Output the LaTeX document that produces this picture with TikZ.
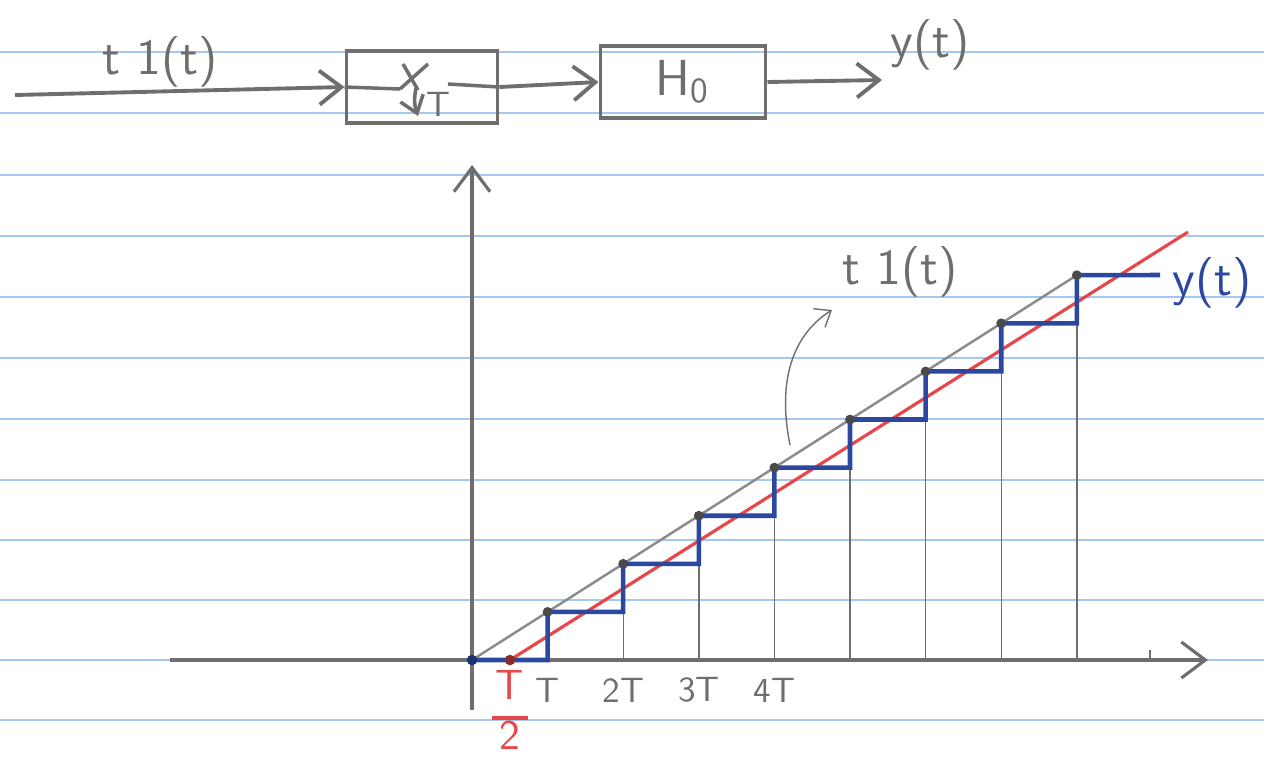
\documentclass[tikz,border=0pt]{standalone}
\usepackage{xcolor}
\usepackage{tikz}
\usetikzlibrary{
  arrows.meta,
  positioning,
  calc
}
\definecolor{pencil}{HTML}{6E6E6E}
\definecolor{pencildark}{HTML}{4A4A4A}
\definecolor{inkblue}{HTML}{2A48A0}
\definecolor{inkred}{HTML}{E8474A}
\definecolor{ruled}{HTML}{A5C8EE}

\begin{document}
\begin{tikzpicture}[
  x=0.01cm, y=-0.01cm,
  block/.style={
    draw=pencil, line width=1.1pt, minimum height=0.72cm,
    font=\Large\sffamily, text=pencil,
  },
  arrow/.style={-{Straight Barb[length=2.2mm,width=3.4mm]}, draw=pencil, line width=1.1pt},
  axis/.style={-{Straight Barb[length=2.4mm,width=3.6mm]}, draw=pencil, line width=0.9pt},
  ramp/.style={draw=pencil!80, line width=0.7pt},
  shifted/.style={draw=inkred, line width=0.9pt},
  hold/.style={draw=inkblue, line width=1.3pt},
  drop/.style={draw=pencil, line width=0.4pt},
  ticklbl/.style={font=\sffamily, text=pencil},
  hand/.style={font=\Large\sffamily, text=pencil},
]
\useasboundingbox (0,0) rectangle (1264,760);

% ruled paper
\foreach \y in {52,113,175,236,297,358,419,480,540,600,660,720}
  \draw[ruled, line width=0.5pt] (0,\y) -- (1264,\y);

% block diagram
\node[block, minimum width=1.51cm] (samp) at (422,87) {};
\node[block, minimum width=1.65cm] (zoh) at (683,82) {H\textsubscript{0}};
\coordinate (in) at (15,95);
\coordinate (out) at (882,80);

\draw[arrow] (in) -- (samp.west);
\draw[arrow] (samp.east) -- (zoh.west);
\draw[arrow] (zoh.east) -- (out);

% sampler switch
\draw[pencil, line width=1pt] (samp.west) -- (400,89);
\draw[pencil, line width=1pt] (400,89) -- (428,64);
\draw[pencil, line width=1pt] (403,64) -- (418,90);
\draw[pencil, line width=1pt, -{Straight Barb[length=1.6mm,width=2.4mm]}] (416,88) to[bend right=15] (418,116);
\node[font=\sffamily, text=pencil] (smpT) at (438,104) {T};
\draw[pencil, line width=1pt] (448,84) -- (samp.east);

\node[hand] (lblin) at (160,62) {t 1(t)};
\node[hand] (lblout) at (930,45) {y(t)};

% axes
\coordinate (O) at (472,660);
\draw[axis] (170,660) -- (1208,660);
\draw[axis] (472,710) -- (472,165);
\draw[drop] (1150,650) -- (1150,660);

% sample instants on t 1(t)
\foreach \k in {0,...,8}
  \coordinate (s\k) at ({472+75.6*\k},{660-48.1*\k});

\foreach \k in {2,...,8}
  \draw[drop] (s\k) -- (s\k |- O);

% t 1(t) and its T/2 delayed copy
\draw[ramp] (s0) -- (s8);
\coordinate (half) at (510,660);
\coordinate (rend) at (1188,232);
\draw[shifted] (half) -- (rend);

% zero order hold output
\coordinate (yend) at (1160,275);
\draw[hold] (s0) foreach \k in {1,...,8} { -| (s\k) } -- (yend);

\foreach \k in {1,...,8}
  \fill[pencildark] (s\k) circle (1.4pt);
\fill[inkblue!70!black] (s0) circle (1.5pt);
\fill[inkred!60!black] (half) circle (1.5pt);

% labels
\foreach \k/\txt in {1/T,2/2T,3/3T,4/4T}
  \node[ticklbl] (lab\k) at ($(s\k |- O)+(0,30)$) {\txt};
\node[text=inkred, font=\large\sffamily, inner sep=0pt] (lhalf) at (510,716)
  {\setlength{\arrayrulewidth}{1.2pt}\renewcommand{\arraystretch}{0.85}\begin{tabular}{@{\hspace{1pt}}c@{\hspace{1pt}}}T\\[1pt]\hline 2\end{tabular}};

\node[hand] (lblt) at (900,272) {t 1(t)};
\node[font=\Large\sffamily, text=inkblue] (lbly) at (1212,283) {y(t)};

\coordinate (pt) at (790,445);
\draw[drop, -{Straight Barb[length=1.4mm,width=2.2mm]}] (pt) .. controls (775,370) and (800,330) .. (832,310);

\end{tikzpicture}
\end{document}
